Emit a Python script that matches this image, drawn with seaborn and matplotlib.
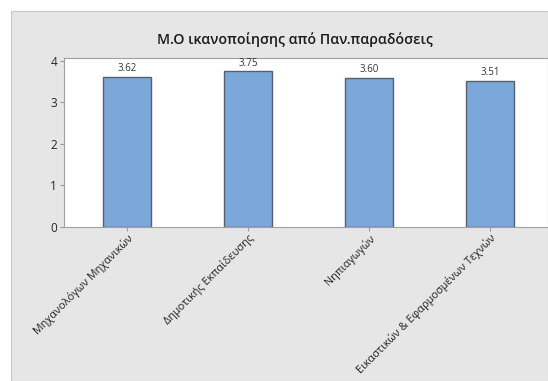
import matplotlib
matplotlib.use('Agg')
import matplotlib.pyplot as plt
import seaborn as sns
from matplotlib.patches import Rectangle

# chart data
departments = ['Μηχανολόγων Μηχανικών', 'Δημοτικής Εκπαίδευσης', 'Νηπιαγωγών',
               'Εικαστικών & Εφαρμοσμένων Τεχνών']
satisfaction = [3.62, 3.75, 3.60, 3.51]
y_ticks = [0, 1, 2, 3, 4]

sns.set_style('white')
plt.rcParams['font.family'] = ['Open Sans', 'DejaVu Sans']

W, H = 548, 381
fig = plt.figure(figsize=(W / 100, H / 100), dpi=100, facecolor='white')

# grey panel behind the plot
fig.patches.append(Rectangle((11 / W, 0), 1 - 11 / W, 1 - 11 / H, transform=fig.transFigure,
                             facecolor='#e6e6e6', edgecolor='#c8c8c8', linewidth=0.8, zorder=0))

ax = fig.add_axes([64 / W, 1 - 227 / H, (W - 64) / W, (227 - 58) / H])
ax.set_zorder(2)
ax.set_facecolor('white')

sns.barplot(x=departments, y=satisfaction, color='#7ba7d9', width=0.4, saturation=1,
            edgecolor='#55606e', linewidth=1.0, ax=ax)
ax.bar_label(ax.containers[0], fmt='%.2f', padding=2, fontsize=7, color='#333333')

ax.set_xlim(-0.52, 3.48)
ax.set_ylim(0, 4.07)
ax.set_yticks(y_ticks)
ax.tick_params(axis='y', labelsize=8.5, length=3, color='#999999', pad=2, left=True)
ax.tick_params(axis='x', labelsize=7.8, length=3, color='#999999', pad=1, bottom=True)
ax.set_xticks(range(len(departments)))
ax.set_xticklabels(departments, rotation=45, ha='right', rotation_mode='anchor', color='#222222')
for s in ax.spines.values():
    s.set_color('#a0a0a0')
    s.set_linewidth(0.8)
ax.set_xlabel('')
ax.set_ylabel('')

fig.text(295 / W, 1 - 40 / H, 'Μ.Ο ικανοποίησης από Παν.παραδόσεις', ha='center', va='center',
         fontsize=10.2, fontweight='semibold', color='#1a1a1a')

fig.savefig('out.png', dpi=100, facecolor='white')
